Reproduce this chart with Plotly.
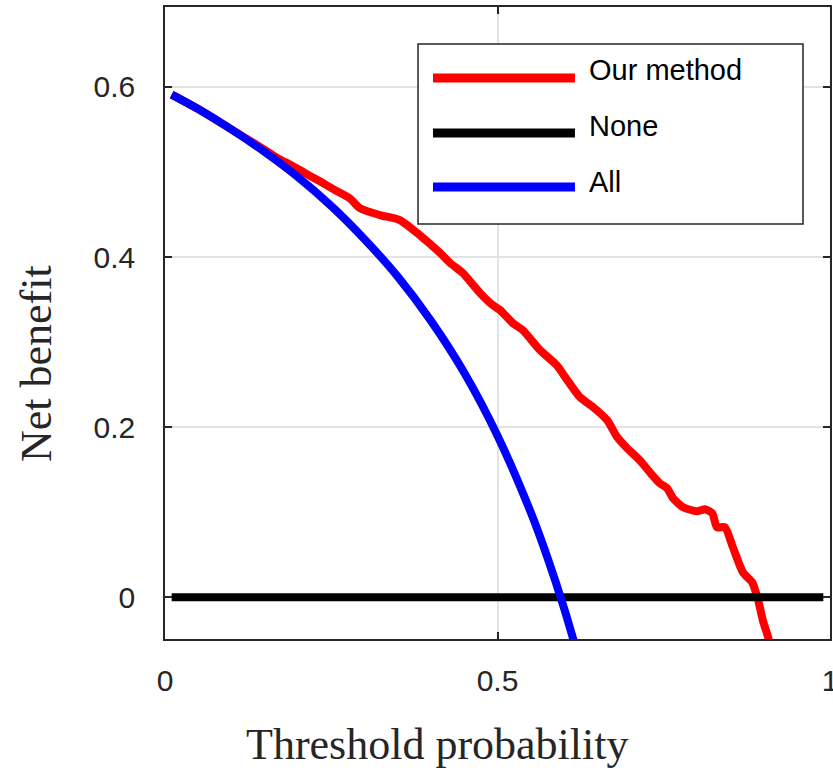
import plotly.graph_objects as go

# ---- data ----
all_t = [0.01, 0.05, 0.10, 0.15, 0.20, 0.25, 0.30, 0.35, 0.40, 0.45, 0.50, 0.55, 0.575, 0.60, 0.62]
all_nb = [0.591, 0.574, 0.550, 0.5235, 0.494, 0.460, 0.421, 0.377, 0.325, 0.264, 0.190, 0.100, 0.047, -0.0125, -0.066]

our_t = [0.01, 0.05, 0.10, 0.15, 0.17, 0.19, 0.21, 0.233, 0.255, 0.278, 0.293, 0.323, 0.353, 0.383, 0.414, 0.429,
         0.448, 0.474, 0.493, 0.504, 0.523, 0.538, 0.564, 0.589, 0.605, 0.624, 0.644, 0.665, 0.680,
         0.695, 0.714, 0.729, 0.744, 0.755, 0.764, 0.779, 0.800, 0.812, 0.823, 0.830, 0.842, 0.854,
         0.869, 0.883, 0.892, 0.899, 0.907, 0.910]
our_nb = [0.591, 0.574, 0.550, 0.526, 0.516, 0.508, 0.499, 0.489, 0.479, 0.469, 0.4576, 0.4494, 0.4435, 0.4259,
          0.4047, 0.3929, 0.3812, 0.3576, 0.3435, 0.3376, 0.3224, 0.3141, 0.2906, 0.2729, 0.2553,
          0.2353, 0.2235, 0.2082, 0.1882, 0.1753, 0.1612, 0.1471, 0.1341, 0.1282, 0.1165, 0.1059,
          0.1012, 0.1035, 0.0988, 0.0824, 0.0824, 0.0588, 0.0294, 0.0176, -0.0035, -0.0271, -0.047, -0.056]

none_t = [0.01, 0.99]
none_nb = [0.0, 0.0]

x_ticks = [0, 0.5, 1]
x_tick_labels = ["0", "0.5", "1"]
y_ticks = [0, 0.2, 0.4, 0.6]
y_tick_labels = ["0", "0.2", "0.4", "0.6"]

series_names = ["Our method", "None", "All"]
series_colors = ["#ff0000", "#000000", "#0000ff"]

fig = go.Figure()
fig.add_trace(go.Scatter(x=our_t, y=our_nb, mode="lines", name=series_names[0],
                         line=dict(color=series_colors[0], width=8, shape="spline", smoothing=0.6),
                         showlegend=False))
fig.add_trace(go.Scatter(x=none_t, y=none_nb, mode="lines", name=series_names[1],
                         line=dict(color=series_colors[1], width=8), showlegend=False))
fig.add_trace(go.Scatter(x=all_t, y=all_nb, mode="lines", name=series_names[2],
                         line=dict(color=series_colors[2], width=8, shape="spline"), showlegend=False))

axis_common = dict(showline=True, linecolor="#262626", linewidth=1.5, mirror="ticks",
                   ticks="inside", ticklen=7, tickwidth=1.5, tickcolor="#262626",
                   showgrid=True, gridcolor="#e3e3e3", gridwidth=1.5, zeroline=False,
                   ticklabeloverflow="allow", automargin=False,
                   tickfont=dict(family="Liberation Sans, Arial", size=30, color="#262626"))

fig.update_xaxes(range=[0, 1], tickvals=x_ticks, ticktext=x_tick_labels, ticklabelstandoff=14, **axis_common)
fig.update_yaxes(range=[-0.049, 0.694], tickvals=y_ticks, ticktext=y_tick_labels, ticklabelstandoff=22, **axis_common)

# custom MATLAB-style legend
shapes = [dict(type="rect", xref="paper", yref="paper", x0=0.3805, x1=0.9594, y0=0.6566, y1=0.9415,
               line=dict(color="#262626", width=1.5), fillcolor="white", layer="above")]
leg_y_lines = [0.8877, 0.8006, 0.7152]
leg_y_text = [0.9003, 0.8117, 0.7231]
annotations = []
for name, col, yl, yt in zip(series_names, series_colors, leg_y_lines, leg_y_text):
    shapes.append(dict(type="line", xref="paper", yref="paper", x0=0.4030, x1=0.6165, y0=yl, y1=yl,
                       line=dict(color=col, width=9), layer="above"))
    annotations.append(dict(text=name, xref="paper", yref="paper", x=0.6346, y=yt, xanchor="left",
                            yanchor="middle", showarrow=False,
                            font=dict(family="Liberation Sans, Arial", size=29, color="#000000")))

annotations.append(dict(text="Threshold probability", xref="paper", yref="paper", x=0.4105, y=-0.1677,
                        xanchor="center", yanchor="middle", showarrow=False,
                        font=dict(family="Liberation Serif, Times New Roman", size=44, color="#262626")))
annotations.append(dict(text="Net benefit", xref="paper", yref="paper", x=-0.194, y=0.4367,
                        xanchor="center", yanchor="middle", showarrow=False, textangle=-90,
                        font=dict(family="Liberation Serif, Times New Roman", size=44, color="#262626")))

fig.update_layout(width=833, height=770, margin=dict(l=165, r=3, t=7, b=131, autoexpand=False),
                  plot_bgcolor="white", paper_bgcolor="white",
                  shapes=shapes, annotations=annotations, showlegend=False)

fig.write_html("out.html", config={"displayModeBar": False},
               post_script="document.body.style.margin='0';document.body.style.overflow='hidden';")
